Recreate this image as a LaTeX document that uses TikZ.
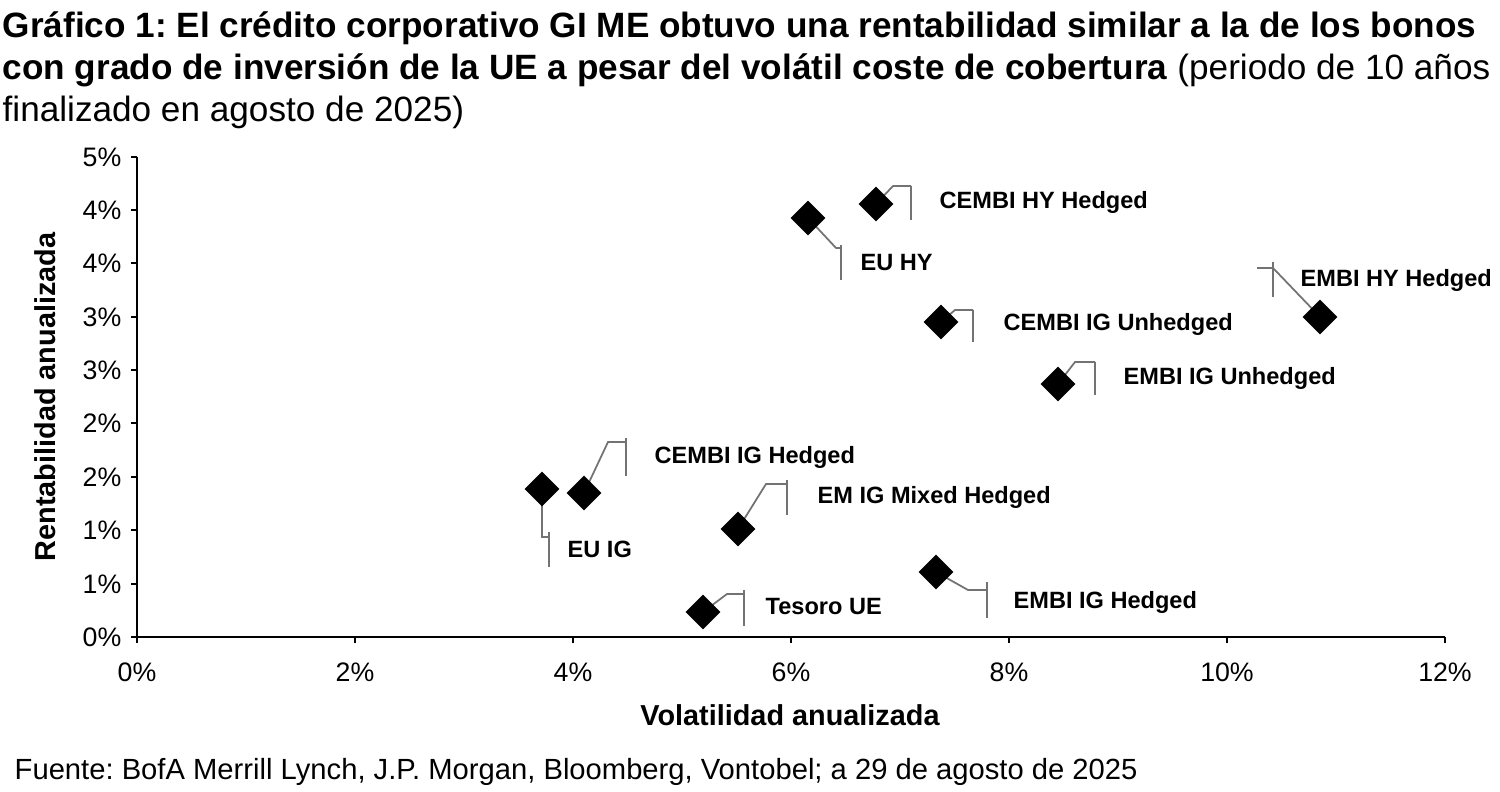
\documentclass[tikz,border=0pt]{standalone}
\usepackage{fontspec}
\setmainfont{Liberation Sans}
\usetikzlibrary{shapes.geometric}
\begin{document}
\frenchspacing
\begin{tikzpicture}[x=0.01cm,y=-0.01cm,
  lead/.style={draw=gray!90!black,line width=0.5pt},
  pt/.style={fill=black,minimum size=10pt,inner sep=0,shape=diamond,draw=none},
  lab/.style={anchor=west,font=\fontsize{6.7pt}{8pt}\selectfont\bfseries,inner sep=0},
  tick/.style={font=\fontsize{7.6pt}{8pt}\selectfont,inner sep=0}]
\useasboundingbox (0,0) rectangle (1500,792);
% title
\node[anchor=base west,inner sep=0] (t1) at (2,38) {\fontsize{10pt}{12pt}\selectfont\bfseries Gráfico 1: El crédito corporativo GI ME obtuvo una rentabilidad similar a la de los bonos};
\node[anchor=base west,inner sep=0] (t2) at (2,80) {\fontsize{10pt}{12pt}\selectfont\textbf{con grado de inversión de la UE a pesar del volátil coste de cobertura} (periodo de 10 años};
\node[anchor=base west,inner sep=0] (t3) at (2,122) {\fontsize{10pt}{12pt}\selectfont finalizado en agosto de 2025)};
% axes
\draw[line width=0.6pt] (137,157) -- (137,637) -- (1445,637);
\foreach \y/\l in {157/5\%,210/4\%,263/4\%,317/3\%,370/3\%,423/2\%,477/2\%,530/1\%,584/1\%,637/0\%}{
  \draw[line width=0.6pt] (131,\y) -- (137,\y);
  \node[tick,anchor=east] at (122,\y) {\l};}
\foreach \i/\l in {0/0\%,1/2\%,2/4\%,3/6\%,4/8\%,5/10\%,6/12\%}{
  \draw[line width=0.6pt] (137+218*\i,637) -- (137+218*\i,643);
  \node[tick,anchor=north] at (137+218*\i,662) {\l};}
\node[rotate=90,font=\fontsize{8.2pt}{9pt}\selectfont\bfseries] (yl) at (45,397) {Rentabilidad anualizada};
\node[font=\fontsize{8.2pt}{9pt}\selectfont\bfseries] (xl) at (790,715) {Volatilidad anualizada};
\node[anchor=base west,inner sep=0,font=\fontsize{8.3pt}{9pt}\selectfont] (src) at (14,780) {Fuente: BofA Merrill Lynch, J.P. Morgan, Bloomberg, Vontobel; a 29 de agosto de 2025};
% leaders
\draw[lead] (876,204) -- (893,186) -- (911,186); \draw[lead] (911,186) -- (911,220);
\draw[lead] (808,218) -- (836,248) -- (841,248); \draw[lead] (841,245) -- (841,280);
\draw[lead] (1320,317) -- (1273,268) -- (1257,268); \draw[lead] (1273,262) -- (1273,297);
\draw[lead] (941,322) -- (955,310) -- (973,310); \draw[lead] (973,310) -- (973,342);
\draw[lead] (1058,384) -- (1075,362) -- (1095,362); \draw[lead] (1095,362) -- (1095,395);
\draw[lead] (584,493) -- (608,442) -- (626,442); \draw[lead] (626,438) -- (626,476);
\draw[lead] (542,489) -- (542,537) -- (549,537); \draw[lead] (549,532) -- (549,567);
\draw[lead] (738,529) -- (766,484) -- (787,484); \draw[lead] (787,480) -- (787,515);
\draw[lead] (936,572) -- (968,590) -- (987,590); \draw[lead] (987,582) -- (987,618);
\draw[lead] (703,612) -- (727,594) -- (744,594); \draw[lead] (744,590) -- (744,626);
% points
\node[pt] (p1) at (876,204) {};
\node[pt] (p2) at (808,218) {};
\node[pt] (p3) at (1320,317) {};
\node[pt] (p4) at (941,322) {};
\node[pt] (p5) at (1058,384) {};
\node[pt] (p6) at (584,493) {};
\node[pt] (p7) at (542,489) {};
\node[pt] (p8) at (738,529) {};
\node[pt] (p9) at (936,572) {};
\node[pt] (p10) at (703,612) {};
% labels
\node[lab] (l1) at (939,202) {CEMBI HY Hedged};
\node[lab] (l2) at (860,263) {EU HY};
\node[lab] (l3) at (1300,280) {EMBI HY Hedged};
\node[lab] (l4) at (1003,324) {CEMBI IG Unhedged};
\node[lab] (l5) at (1123,378) {EMBI IG Unhedged};
\node[lab] (l6) at (654,457) {CEMBI IG Hedged};
\node[lab] (l7) at (567,549) {EU IG};
\node[lab] (l8) at (817,497) {EM IG Mixed Hedged};
\node[lab] (l9) at (1013,602) {EMBI IG Hedged};
\node[lab] (l10) at (765,607) {Tesoro UE};
\end{tikzpicture}
\end{document}
